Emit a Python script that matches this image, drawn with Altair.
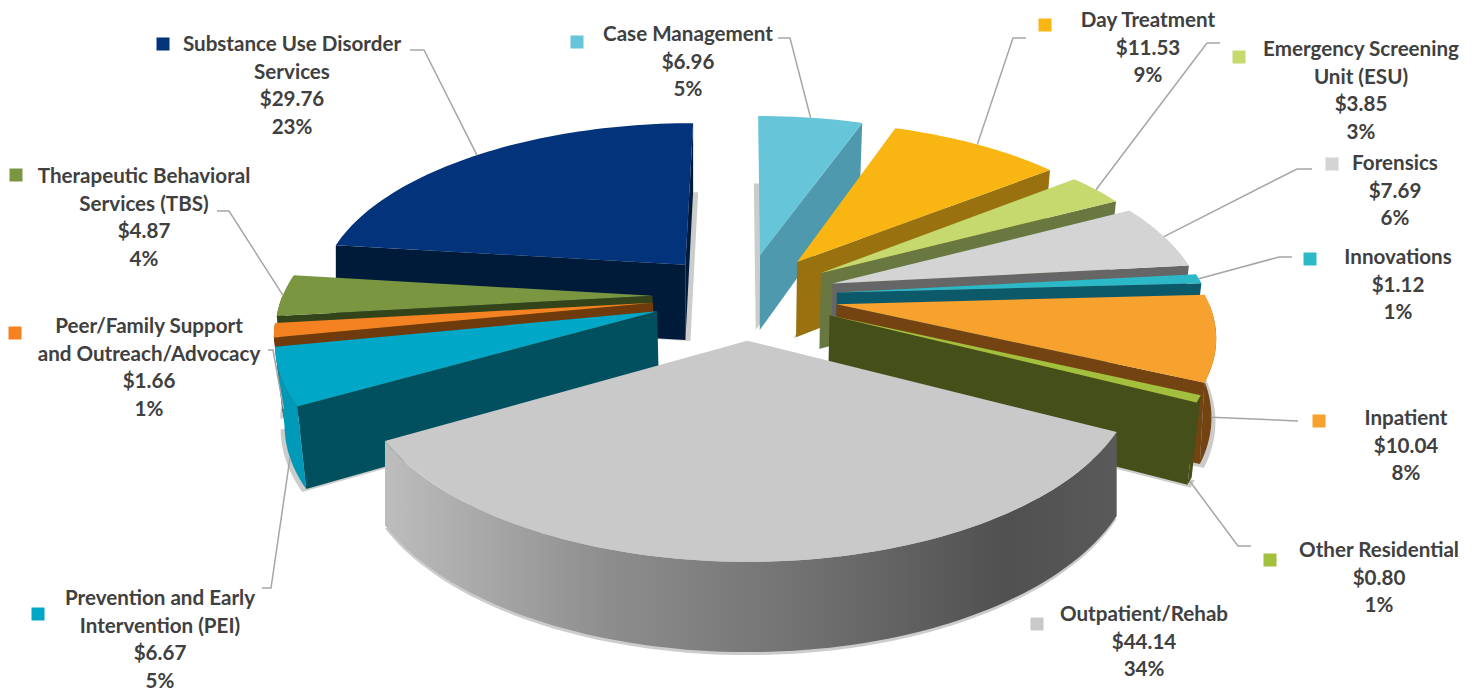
import math
import altair as alt
import pandas as pd

# ---- chart values (clockwise from 12 o'clock) ----
names = [["Case Management"], ["Day Treatment"], ["Emergency Screening", "Unit (ESU)"], ["Forensics"],
         ["Innovations"], ["Inpatient"], ["Other Residential"], ["Outpatient/Rehab"],
         ["Prevention and Early", "Intervention (PEI)"], ["Peer/Family Support", "and Outreach/Advocacy"],
         ["Therapeutic Behavioral", "Services (TBS)"], ["Substance Use Disorder", "Services"]]
values = [6.96, 11.53, 3.85, 7.69, 1.12, 10.04, 0.80, 44.14, 6.67, 1.66, 4.87, 29.76]
dollars = ["$6.96", "$11.53", "$3.85", "$7.69", "$1.12", "$10.04", "$0.80", "$44.14", "$6.67", "$1.66", "$4.87", "$29.76"]
shares = ["5%", "9%", "3%", "6%", "1%", "8%", "1%", "34%", "5%", "1%", "4%", "23%"]

# ---- styles ----
top_colors = ["#67c5d9", "#f9b512", "#c5d96e", "#d4d4d4", "#2cb9c7", "#f7a12f", "#a2bf3d", "#c9c9c9",
              "#00a7c7", "#f58220", "#7a9640", "#03337a"]
side_colors = ["#4e99ad", "#99720f", "#687840", "#666666", "#0c5a69", "#734412", "#454f1a", "#6a6a6a",
               "#00505f", "#6f3a0c", "#33441a", "#001a3a"]
rim_colors = ["#4e99ad", "#99720f", "#687840", "#666666", "#0c5a69", "#734412", "#454f1a", "#6a6a6a",
              "#0099b8", "#6f3a0c", "#33441a", "#001a3a"]
paint_order = [0, 1, 2, 3, 4, 5, 6, 11, 10, 9, 8, 7]
# inward lean of the lower edge of each slice's wall
taper = [0.98, 0.98, 0.98, 0.98, 0.98, 0.99, 0.98, 1.0, 0.98, 0.98, 0.98, 1.0]
# drop-shadow offset of each slice
shadow = [(-4, 0), (-3, 1), (-3, 1), (0, 2), (0, 2), (4, 4), (3, 3), (0, 3), (-4, 3), (-3, 2), (-3, 2), (5, 1)]

# ---- pie projection ----
CX, CY, RX, RY, KP, EXPL, DEPTH = 745, 296, 370, 172, 0.153, 0.25, 77

# ---- label layout: legend square, text centre, first line y, leader elbow points, leader on wall ----
layout = [
    dict(sq=(577, 42), tx=688, ty=35, lead=[(778, 38), (790, 38)], wall=0),
    dict(sq=(1045, 25), tx=1148, ty=21, lead=[(1026, 38), (1013, 38)], wall=0),
    dict(sq=(1239, 57), tx=1361, ty=50, lead=[(1220, 43), (1207, 43)], wall=0),
    dict(sq=(1332, 164), tx=1395, ty=164, lead=[(1312, 169), (1297, 169)], wall=0),
    dict(sq=(1310, 259), tx=1398, ty=258, lead=[(1292, 257), (1279, 257)], wall=0),
    dict(sq=(1319, 421), tx=1406, ty=419, lead=[(1298, 421)], wall=1),
    dict(sq=(1270, 560), tx=1379, ty=551, lead=[(1251, 546), (1238, 546)], wall=1),
    dict(sq=(1037, 624), tx=1144, ty=615, lead=[], wall=0),
    dict(sq=(38, 614), tx=160, ty=599, lead=[(262, 588), (271, 588)], wall=1),
    dict(sq=(15, 333), tx=149, ty=327, lead=[(268, 350), (273, 350)], wall=1),
    dict(sq=(16, 175), tx=144, ty=177, lead=[(217, 211), (229, 211)], wall=0),
    dict(sq=(163, 44), tx=292, ty=45, lead=[(410, 50), (424, 50)], wall=0),
]

W, H = 1463, 683
xs = alt.Scale(domain=[8, 8 + W], range=[0, W], nice=False, zero=False)
ys = alt.Scale(domain=[8 + H, 8], range=[H, 0], nice=False, zero=False)
X = alt.X("x:Q", scale=xs, axis=None)
Y = alt.Y("y:Q", scale=ys, axis=None)

total = sum(values)
bounds = [0]
for v in values:
    bounds.append(bounds[-1] + v / total * 2 * math.pi)


def project(t, mid, r=1.0):
    px = EXPL * math.sin(mid) + r * math.sin(t)
    py = EXPL * math.cos(mid) + r * math.cos(t)
    w = 1 + KP * py
    return CX + RX * px / w, CY - RY * py / w, DEPTH / w ** 0.75


def down(p, s):
    return (CX + (p[0] - CX) * taper[s], p[1] + p[2])


def arc(a, b, mid):
    n = max(2, int(abs(b - a) / math.radians(1.5)) + 1)
    return [project(a + (b - a) * i / (n - 1), mid) for i in range(n)]


def poly(points, fill, opacity=1):
    df = pd.DataFrame({"x": [p[0] for p in points], "y": [p[1] for p in points], "i": range(len(points))})
    return alt.Chart(df).mark_line(filled=True, fill=fill, strokeWidth=0, interpolate="linear",
                                   opacity=opacity).encode(x=X, y=Y, order=alt.Order("i:Q"))


wall_gradient = alt.Gradient(gradient="linear", x1=0, x2=1, y1=0, y2=0, stops=[
    alt.GradientStop(color="#bdbdbd", offset=0), alt.GradientStop(color="#8e8e8e", offset=0.3),
    alt.GradientStop(color="#6e6e6e", offset=0.6), alt.GradientStop(color="#505050", offset=0.85),
    alt.GradientStop(color="#5a5a5a", offset=1)])

layers = []
for s in paint_order:
    a, b = bounds[s], bounds[s + 1]
    m = (a + b) / 2
    apex = project(0, m, 0)
    rim = arc(a, b, m)
    # soft shadow: the slice's lower face, offset
    dx, dy = shadow[s]
    under = [down(q, s) for q in [apex] + rim]
    layers.append(poly([(q[0] + dx, q[1] + dy) for q in under], "#7f7f7f", 0.4))
    # radial wall facing the viewer
    if math.sin(b) > 0:
        p = project(b, m)
        layers.append(poly([apex[:2], p[:2], down(p, s), down(apex, s)], side_colors[s]))
    if math.sin(a) < 0:
        p = project(a, m)
        layers.append(poly([apex[:2], p[:2], down(p, s), down(apex, s)], side_colors[s]))
    # outer wall on the front half of the ring
    fa, fb = max(a, math.pi / 2), min(b, 3 * math.pi / 2)
    if fb > fa:
        edge = arc(fa, fb, m)
        fill = wall_gradient if s == 7 else rim_colors[s]
        layers.append(poly([q[:2] for q in edge] + [down(q, s) for q in reversed(edge)], fill))
    # top face
    layers.append(poly([apex[:2]] + [q[:2] for q in rim], top_colors[s]))

# leaders
for s, lay in enumerate(layout):
    if not lay["lead"]:
        continue
    m = (bounds[s] + bounds[s + 1]) / 2
    q = project(m, m)
    end = down(q, s) if lay["wall"] else q[:2]
    pts = lay["lead"] + [end]
    df = pd.DataFrame({"x": [p[0] for p in pts], "y": [p[1] for p in pts], "i": range(len(pts))})
    layers.append(alt.Chart(df).mark_line(color="#a6a6a6", strokeWidth=1.5).encode(x=X, y=Y, order=alt.Order("i:Q")))

# legend squares
sq = pd.DataFrame({"x": [l["sq"][0] for l in layout], "y": [l["sq"][1] for l in layout], "c": top_colors})
layers.append(alt.Chart(sq).mark_square(size=169, opacity=1).encode(
    x=X, y=Y, color=alt.Color("c:N", scale=None, legend=None)))

# labels
rows = []
for s, lay in enumerate(layout):
    for j, line in enumerate(names[s] + [dollars[s], shares[s]]):
        rows.append({"x": lay["tx"], "y": lay["ty"] + j * 27.6, "t": line})
layers.append(alt.Chart(pd.DataFrame(rows)).mark_text(
    font="Lato", fontWeight="bold", fontSize=20.6, color="#404040", align="center", baseline="middle"
).encode(x=X, y=Y, text="t:N"))

chart = alt.layer(*layers).properties(width=W, height=H, padding=0, background="white",
                                      autosize=alt.AutoSizeParams(type="none")
                                      ).configure_view(stroke=None)
chart.save("out.html", embed_options={"renderer": "svg", "actions": False})
